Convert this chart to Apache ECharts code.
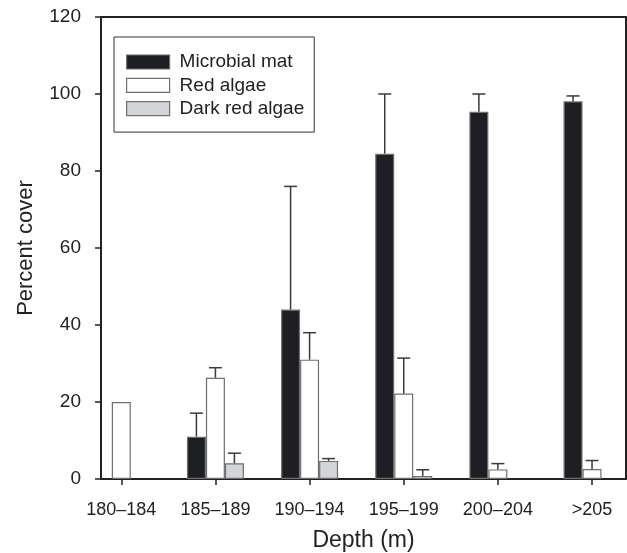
<!DOCTYPE html>
<html>
<head>
<meta charset="utf-8">
<script src="https://cdn.jsdelivr.net/npm/echarts@6/dist/echarts.min.js"></script>
<style>html,body{margin:0;padding:0;background:#fff;}#c{width:627px;height:553px;}</style>
</head>
<body>
<div id="c"></div>
<script>
const categories = ['180–184', '185–189', '190–194', '195–199', '200–204', '>205'];
const seriesNames = ['Microbial mat', 'Red algae', 'Dark red algae'];
const microbialMat = [null, 11, 44, 84.5, 95.4, 98.1];
const redAlgae = [20, 26.3, 31, 22.2, 2.5, 2.6];
const darkRedAlgae = [null, 4.1, 4.7, 0.8, null, null];
const microbialMatUpper = [null, 17.1, 76, 100, 100, 99.5];
const redAlgaeUpper = [null, 28.9, 38, 31.4, 4.0, 4.8];
const darkRedAlgaeUpper = [null, 6.7, 5.3, 2.4, null, null];
const yMin = 0, yMax = 120, yStep = 20;

const FONT = '"Liberation Sans", Arial, Helvetica, sans-serif';
const BAR_W = 19;
const fills = ['#1e1f22', '#ffffff', '#d3d5d8'];
const edge = '#6f6f6f';

const means = [microbialMat, redAlgae, darkRedAlgae];
const uppers = [microbialMatUpper, redAlgaeUpper, darkRedAlgaeUpper];

const barSeries = seriesNames.map((name, k) => ({
  name: name,
  type: 'bar',
  xAxisIndex: 1,
  yAxisIndex: 1,
  barWidth: BAR_W,
  barGap: '0%',
  data: means[k],
  itemStyle: { color: fills[k], borderColor: edge, borderWidth: 1.2 },
  emphasis: { disabled: true },
  z: 2
}));

const errSeries = seriesNames.map((name, k) => {
  const data = [];
  categories.forEach((c, i) => {
    if (means[k][i] != null && uppers[k][i] != null) data.push([i, means[k][i], uppers[k][i]]);
  });
  const offset = (k - 1) * BAR_W;
  return {
    name: name + ' error',
    type: 'custom',
    xAxisIndex: 1,
    yAxisIndex: 1,
    z: 3,
    silent: true,
    data: data,
    renderItem: function (params, api) {
      const base = api.coord([api.value(0), api.value(1)]);
      const top = api.coord([api.value(0), api.value(2)]);
      const x = base[0] + offset;
      const st = { stroke: '#3a3a3a', lineWidth: 1.5 };
      return {
        type: 'group',
        children: [
          { type: 'line', shape: { x1: x, y1: base[1], x2: x, y2: top[1] }, style: st },
          { type: 'line', shape: { x1: x - 6.5, y1: top[1], x2: x + 6.5, y2: top[1] }, style: st }
        ]
      };
    }
  };
});

const chart = echarts.init(document.getElementById('c'), null, { renderer: 'canvas' });
chart.setOption({
  animation: false,
  backgroundColor: '#fff',
  textStyle: { fontFamily: FONT },
  grid: [
    { left: 101, right: 1, top: 17, bottom: 74, show: true, borderColor: '#222', borderWidth: 2, backgroundColor: 'transparent', containLabel: false, outerBoundsMode: 'none' },
    { left: 74.2, right: -12.1, top: 17, bottom: 74, containLabel: false, outerBoundsMode: 'none' }
  ],
  legend: {
    orient: 'vertical',
    left: 114,
    top: 37,
    align: 'left',
    padding: [15.5, 10, 14, 12],
    borderColor: '#333',
    borderWidth: 1,
    backgroundColor: '#fff',
    icon: 'rect',
    itemWidth: 43,
    itemHeight: 14,
    itemGap: 4.3,
    selectedMode: false,
    data: seriesNames.map((n, k) => ({ name: n, itemStyle: { color: fills[k], borderColor: edge, borderWidth: 1.2 } })),
    textStyle: { fontSize: 19, color: '#222', fontFamily: FONT, padding: [0, 0, 0, 5] }
  },
  xAxis: [
    {
      gridIndex: 0, type: 'value', min: 0, max: 1,
      axisLine: { show: false }, axisTick: { show: false }, axisLabel: { show: false }, splitLine: { show: false },
      name: 'Depth (m)', nameLocation: 'middle', nameGap: 50,
      nameTextStyle: { fontSize: 23, color: '#222', fontFamily: FONT }
    },
    {
      gridIndex: 1, type: 'category', data: categories,
      axisLine: { show: false },
      axisTick: { show: true, alignWithLabel: true, length: 6, lineStyle: { color: '#222', width: 1.5 } },
      axisLabel: { fontSize: 18, color: '#222', margin: 22, fontFamily: FONT },
      splitLine: { show: false }
    }
  ],
  yAxis: [
    {
      gridIndex: 0, type: 'value', min: yMin, max: yMax, interval: yStep,
      axisLine: { show: true, lineStyle: { color: '#222', width: 2 } },
      axisTick: { show: true, inside: false, length: 6, lineStyle: { color: '#222', width: 1.5 } },
      axisLabel: { fontSize: 19, color: '#222', margin: 20, fontFamily: FONT },
      splitLine: { show: false },
      name: 'Percent cover', nameLocation: 'middle', nameGap: 64,
      nameTextStyle: { fontSize: 22, color: '#222', fontFamily: FONT }
    },
    {
      gridIndex: 1, type: 'value', min: yMin, max: yMax, interval: yStep, show: false,
      splitLine: { show: false }
    }
  ],
  series: barSeries.concat(errSeries)
});
</script>
</body>
</html>
